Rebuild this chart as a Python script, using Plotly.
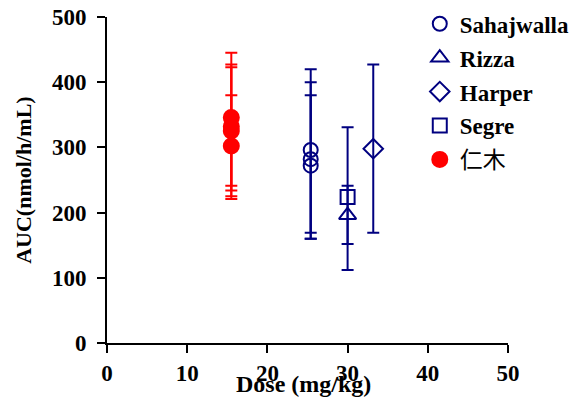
import plotly.graph_objects as go

# ---- data ----
series_names = ["Sahajwalla", "Rizza", "Harper", "Segre", "仁木"]
series_dose = [[25.4, 25.4, 25.4], [30.0], [33.2], [30.0], [15.5, 15.5, 15.5, 15.5]]
series_auc = [[296, 282, 272], [196], [298], [224], [346, 332, 325, 302]]
series_upper = [[420, 400, 380], [241], [427], [331], [445, 427, 423, 380]]
series_lower = [[169, 160, 160], [152], [169], [112], [241, 234, 221, 225]]
series_symbol = ["circle-open", "triangle-up-open", "diamond-open", "square-open", "circle"]
series_color = ["#000080", "#000080", "#000080", "#000080", "#ff0000"]
series_size = [14, 15, 15, 14, 15]

x_ticks = [0, 10, 20, 30, 40, 50]
y_ticks = [0, 100, 200, 300, 400, 500]

FONT = "Liberation Serif, Times New Roman, Noto Sans CJK SC, serif"
TICKFONT = dict(family=FONT, size=23, color="black")

fig = go.Figure()
for i, name in enumerate(series_names):
    y = series_auc[i]
    up = [u - v for u, v in zip(series_upper[i], y)]
    lo = [v - l for l, v in zip(series_lower[i], y)]
    label = name if i == 4 else "<b>" + name + "</b>"
    fig.add_trace(go.Scatter(
        x=series_dose[i], y=y, mode="markers", name=label,
        legendgroup=name,
        marker=dict(symbol=series_symbol[i], size=series_size[i],
                    color=series_color[i], line=dict(width=2, color=series_color[i])),
        error_y=dict(type="data", symmetric=False, array=up, arrayminus=lo,
                     color=series_color[i], thickness=2, width=6),
    ))

fig.update_layout(
    width=573, height=404,
    margin=dict(l=99, r=73, t=9, b=69, autoexpand=False),
    paper_bgcolor="white", plot_bgcolor="white",
    font=dict(family=FONT, size=22, color="black"),
    showlegend=True,
    legend=dict(x=0.78, y=1.045, xanchor="left", yanchor="top",
                font=dict(family=FONT, size=23, color="black"),
                traceorder="grouped", tracegroupgap=1,
                bgcolor="rgba(0,0,0,0)", itemsizing="trace"),
    xaxis=dict(range=[0, 50], tickvals=x_ticks, ticktext=[f"<b>{t}</b>" for t in x_ticks],
               tickfont=TICKFONT, automargin=False, ticklabeloverflow="allow",
               showgrid=False, zeroline=False, showline=True, linecolor="black", linewidth=2,
               ticks="outside", ticklen=8, tickwidth=2, tickcolor="black",
               ticklabelstandoff=0),
    yaxis=dict(range=[0, 500], tickvals=y_ticks, ticktext=[f"<b>{t}</b>" for t in y_ticks],
               tickfont=TICKFONT, automargin=False, ticklabeloverflow="allow",
               showgrid=False, zeroline=False, showline=True, linecolor="black", linewidth=2,
               ticks="outside", ticklen=8, tickwidth=2, tickcolor="black",
               ticklabelstandoff=6),
    annotations=[
        dict(text="<b>Dose (mg/kg)</b>", xref="paper", yref="paper", x=0.49, y=-0.125,
             xanchor="center", yanchor="middle", showarrow=False,
             font=dict(family=FONT, size=24, color="black")),
        dict(text="<b>AUC(nmol/h/mL)</b>", xref="paper", yref="paper", x=-0.21, y=0.5,
             xanchor="center", yanchor="middle", showarrow=False, textangle=-90,
             font=dict(family=FONT, size=22, color="black")),
    ],
)

fig.write_html("out.html")
